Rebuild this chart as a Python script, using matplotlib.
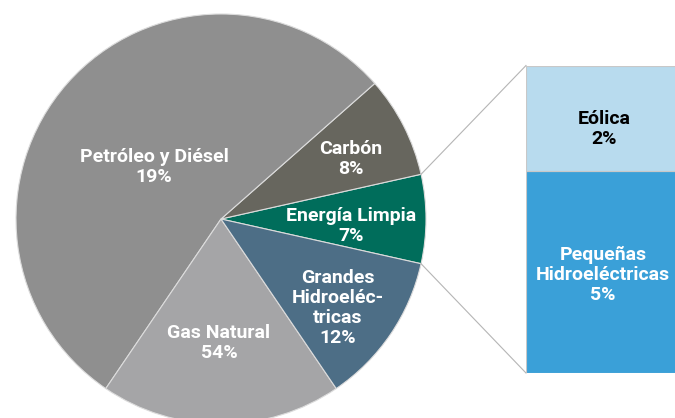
import numpy as np
import matplotlib
matplotlib.use("Agg")
import matplotlib.pyplot as plt

# pie slices, counter-clockwise from the right-hand side
slice_names = ["Energía Limpia", "Carbón", "Petróleo y Diésel", "Gas Natural",
               "Grandes\nHidroeléc-\ntricas"]
slice_sizes = [7, 8, 54, 19, 12]          # drawn share
slice_pcts = ["7%", "8%", "19%", "54%", "12%"]   # percent text as printed
slice_colors = ["#006d5b", "#67665e", "#8f8f8f", "#a5a5a7", "#4d6e86"]

# breakdown of "Energía Limpia"
bar_names = ["Pequeñas\nHidroeléctricas", "Eólica"]
bar_sizes = [4.6, 2.4]                    # drawn heights
bar_pcts = ["5%", "2%"]
bar_colors = ["#3aa0d8", "#b8dbee"]
bar_text = ["white", "black"]

W, H = 675, 418
fig = plt.figure(figsize=(W / 100, H / 100), dpi=100)
ax = fig.add_axes([0, 0, 1, 1])

CX, CY, R = 221, 219, 205
wedges, _ = ax.pie(slice_sizes, colors=slice_colors, startangle=-12.6, counterclock=True,
                   center=(CX, -CY), radius=R,
                   wedgeprops=dict(edgecolor="#dcdcdc", linewidth=0.8))
ax.set_xlim(0, W)
ax.set_ylim(-H, 0)
ax.set_aspect("equal")
ax.axis("off")

font = dict(family=["Roboto", "DejaVu Sans"], fontweight="bold", fontsize=14,
            ha="center", va="center", linespacing=1.15)

# label spots (pixel coords, y down)
label_xy = [(351, 226), (351, 159), (154, 167), (219, 343), (338, 308)]
for name, pct, (x, y) in zip(slice_names, slice_pcts, label_xy):
    ax.text(x, -y, f"{name}\n{pct}", color="white", **font)

# connector lines from the clean-energy wedge to the bar
bx0, by_top, by_bot = 526, 65.5, 373
w = wedges[0]
for ang, yb in [(w.theta2, by_top), (w.theta1, by_bot)]:
    px = CX + R * np.cos(np.radians(ang))
    py = -CY + R * np.sin(np.radians(ang))
    ax.plot([px, bx0], [py, -yb], color="#b5b5b5", lw=0.8)

# bar runs off the right edge of the picture
bw = W + 6 - bx0
bax = fig.add_axes([bx0 / W, 1 - by_bot / H, bw / W, (by_bot - by_top) / H])
bottom = 0
for size, c in zip(bar_sizes, bar_colors):
    bax.bar(0, size, width=1, bottom=bottom, color=c, edgecolor="#c8c8c8", linewidth=0.8,
            align="edge")
    bottom += size
bax.set_xlim(0, 1)
bax.set_ylim(0, bottom)
bax.axis("off")

bar_label_xy = [(603, 275), (604, 129)]
for name, pct, tc, (x, y) in zip(bar_names, bar_pcts, bar_text, bar_label_xy):
    ax.text(x, -y, f"{name}\n{pct}", color=tc, zorder=5, **font)
ax.set_zorder(2)
ax.patch.set_visible(False)

fig.savefig("out.png", dpi=100)
